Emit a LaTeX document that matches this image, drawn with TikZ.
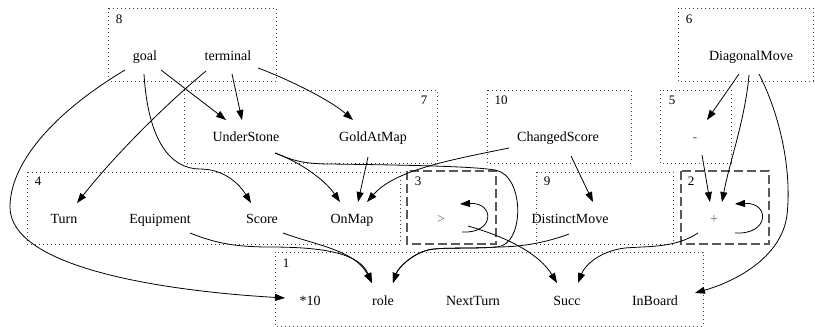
\documentclass[tikz,border=0pt]{standalone}
\usepackage{fontspec}
\setmainfont{Liberation Serif}
\usetikzlibrary{arrows.meta}
\begin{document}
\begin{tikzpicture}[x=1pt,y=-1pt,
  lbl/.style={font=\fontsize{14}{16}\selectfont, inner sep=0pt, anchor=base},
  op/.style={lbl, text=black!60},
  clab/.style={font=\fontsize{13}{15}\selectfont, inner sep=0pt, anchor=base},
  clus/.style={draw=black!75, line width=0.9pt, dash pattern=on 0.9pt off 3.1pt},
  dclus/.style={draw=black!65, line width=1.3pt, dash pattern=on 9pt off 4pt},
  edge/.style={draw=black, line width=0.8pt, -{Triangle[length=10pt,width=7pt]}}
]
\useasboundingbox (0,0) rectangle (815,327);
% clusters (dotted)
\draw[clus] (108,8) rectangle (276,81);
\draw[clus] (678,8) rectangle (813,81);
\draw[clus] (184,90) rectangle (437,163);
\draw[clus] (487,90) rectangle (631,163);
\draw[clus] (660,90) rectangle (731,163);
\draw[clus] (27,172) rectangle (400,244);
\draw[clus] (536,172) rectangle (673,244);
\draw[clus] (275,252) rectangle (703,326);
% clusters (dashed)
\draw[dclus] (407,171) rectangle (496,244);
\draw[dclus] (681,171) rectangle (769,244);
% cluster labels
\node[clab] (c8) at (119,23.5) {8};
\node[clab] (c6) at (689,23.5) {6};
\node[clab] (c7) at (424,104) {7};
\node[clab] (c10) at (501,104) {10};
\node[clab] (c5) at (672,104) {5};
\node[clab] (c4) at (38,185.5) {4};
\node[clab] (c3) at (418,185.5) {3};
\node[clab] (c9) at (547,185.5) {9};
\node[clab] (c2) at (691,185.5) {2};
\node[clab] (c1) at (286,267.5) {1};
% nodes
\node[lbl] (goal) at (145,60) {goal};
\node[lbl] (terminal) at (228,60) {terminal};
\node[lbl] (diag) at (751,60) {DiagonalMove};
\node[lbl] (under) at (246,141) {UnderStone};
\node[lbl] (gold) at (373,141) {GoldAtMap};
\node[lbl] (changed) at (558,141) {ChangedScore};
\node[op] (minus) at (695,141) {-};
\node[lbl] (turn) at (64,223) {Turn};
\node[lbl] (equip) at (160,223) {Equipment};
\node[lbl] (score) at (262,223) {Score};
\node[lbl] (onmap) at (352,223) {OnMap};
\node[op] (gt) at (441,223) {>};
\node[lbl] (distinct) at (570,223) {DistinctMove};
\node[op] (plus) at (714,223) {+};
\node[lbl] (star) at (310,305) {*10};
\node[lbl] (role) at (383,305) {role};
\node[lbl] (next) at (473,305) {NextTurn};
\node[lbl] (succ) at (567,305) {Succ};
\node[lbl] (inboard) at (655,305) {InBoard};
% edges
\draw[edge] ([shift={(16,10)}]goal.base) -- ([shift={(-20,-21)}]under.base);
\draw[edge] ([shift={(4,14)}]terminal.base) -- ([shift={(-4,-21)}]under.base);
\draw[edge] ([shift={(30,8)}]terminal.base) .. controls (290,80) and (330,100) .. ([shift={(-20,-21)}]gold.base);
\draw[edge] ([shift={(-22,11)}]terminal.base) .. controls (165,105) and (115,155) .. ([shift={(13,-20)}]turn.base);
\draw[edge] ([shift={(-1,14)}]goal.base) .. controls (148,140) and (170,169) .. (200,169) .. controls (225,169) and (240,185) .. ([shift={(-11,-20)}]score.base);
\draw[edge] ([shift={(-20,10)}]goal.base) .. controls (50,115) and (10,165) .. (10,207) .. controls (10,265) and (150,290) .. ([shift={(-25,-7)}]star.base);
\draw[edge] ([shift={(29,12)}]under.base) .. controls (300,162) and (325,180) .. ([shift={(-12,-21)}]onmap.base);
\draw[edge] ([shift={(29,12)}]under.base) .. controls (290,159) and (300,164) .. (330,164) .. controls (400,165) and (470,166) .. (495,170) .. controls (525,175) and (525,245) .. (497,247) .. controls (470,249) and (440,247) .. (428,250) .. controls (412,254) and (398,268) .. ([shift={(10,-22)}]role.base);
\draw[edge] ([shift={(-1,11)}]distinct.base) .. controls (545,243) and (520,247) .. (497,247) .. controls (470,249) and (440,247) .. (428,250) .. controls (412,254) and (398,268) .. ([shift={(10,-22)}]role.base);
\draw[edge] ([shift={(-5,16)}]gold.base) -- ([shift={(6,-21)}]onmap.base);
\draw[edge] ([shift={(-49,7)}]changed.base) .. controls (450,160) and (395,170) .. ([shift={(15,-21)}]onmap.base);
\draw[edge] ([shift={(13,15)}]changed.base) -- ([shift={(23,-21)}]distinct.base);
\draw[edge] ([shift={(30,10)}]equip.base) .. controls (215,243) and (235,247) .. (270,247) .. controls (330,247) and (360,255) .. ([shift={(-11,-22)}]role.base);
\draw[edge] ([shift={(21,10)}]score.base) .. controls (315,245) and (355,250) .. ([shift={(-11,-22)}]role.base);
\draw[edge] ([shift={(27,3)}]gt.base) .. controls (510,238) and (540,255) .. ([shift={(-10,-22)}]succ.base);
\draw[edge] ([shift={(21,9)}]gt.base) .. controls (495,234) and (495,202) .. ([shift={(19,-19)}]gt.base);
\draw[edge] ([shift={(21,10)}]plus.base) .. controls (770,235) and (770,202) .. ([shift={(21,-19)}]plus.base);
\draw[edge] ([shift={(-16,10)}]plus.base) .. controls (675,248) and (650,246) .. (625,248) .. controls (600,251) and (585,265) .. ([shift={(11,-22)}]succ.base);
\draw[edge] ([shift={(7,14)}]minus.base) -- ([shift={(-4,-21)}]plus.base);
\draw[edge] ([shift={(-12,14)}]diag.base) -- ([shift={(12,-21)}]minus.base);
\draw[edge] ([shift={(-2,15)}]diag.base) .. controls (745,120) and (730,160) .. ([shift={(8,-21)}]plus.base);
\draw[edge] ([shift={(8,14)}]diag.base) .. controls (780,115) and (792,170) .. (787,215) .. controls (782,255) and (740,280) .. ([shift={(40,-12)}]inboard.base);
\end{tikzpicture}
\end{document}
